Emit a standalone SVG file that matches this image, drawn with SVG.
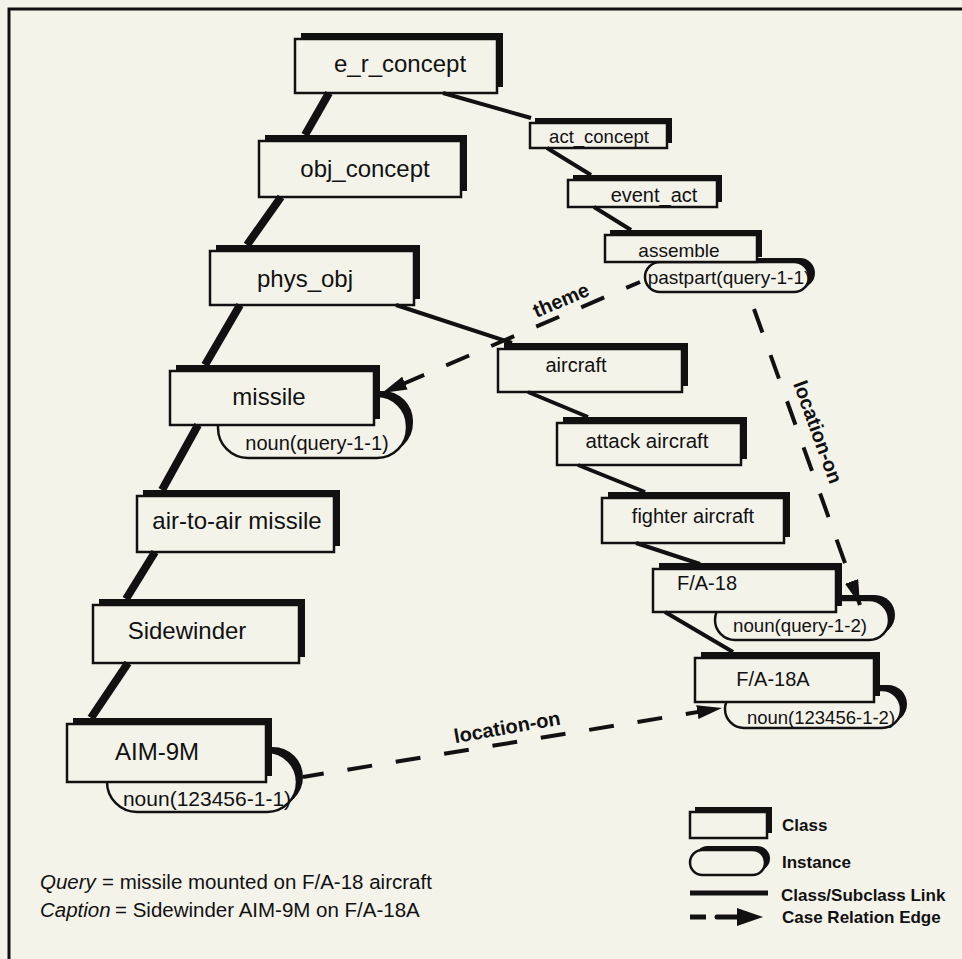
<svg xmlns="http://www.w3.org/2000/svg" width="962" height="959" viewBox="0 0 962 959">
<defs>
<style>
.bg{fill:#f4f3ea}
.sh{fill:#111}
.box{fill:#f4f3ea;stroke:#111;stroke-width:2.5}
.t{font-family:"Liberation Sans",Arial,Helvetica,sans-serif;fill:#111;text-anchor:middle}
.ts{font-family:"Liberation Sans",Arial,Helvetica,sans-serif;fill:#111}
.big{font-size:24px}
.lbl{font-size:20px;font-weight:bold}
.leg{font-size:17px;font-weight:bold}
.thick{stroke:#111;stroke-width:8;fill:none}
.thin{stroke:#111;stroke-width:4;fill:none}
.case{stroke:#111;stroke-width:4;fill:none;stroke-dasharray:25 24}
</style>
<marker id="ah" markerUnits="userSpaceOnUse" markerWidth="26" markerHeight="14" refX="25" refY="7" orient="auto" viewBox="0 0 26 14"><path d="M0,0 L25,7 L0,14 z" fill="#111"/></marker>
</defs>
<rect class="bg" x="0" y="0" width="962" height="959"/>
<path d="M9,959 V9 H962" fill="none" stroke="#111" stroke-width="3"/>

<g id="e_r_concept"><rect class="sh" x="301" y="33" width="202" height="54"/><rect class="box" x="295" y="39" width="202" height="54"/><text class="t big" x="400" y="72">e_r_concept</text></g>
<g id="obj_concept"><rect class="sh" x="265" y="135" width="202" height="56"/><rect class="box" x="259" y="141" width="202" height="56"/><text class="t big" x="365" y="177">obj_concept</text></g>
<g id="phys_obj"><rect class="sh" x="216" y="245" width="204" height="54"/><rect class="box" x="210" y="251" width="204" height="54"/><text class="t big" x="305" y="287">phys_obj</text></g>
<g id="noun_query_1_1"><rect class="sh" x="224" y="391" width="189" height="62" rx="30"/><rect class="box" x="218" y="396" width="189" height="62" rx="30"/><text class="t" font-size="20" x="317" y="450">noun(query-1-1)</text></g>
<g id="missile"><rect class="sh" x="176" y="365" width="204" height="54"/><rect class="box" x="170" y="371" width="204" height="54"/><text class="t big" x="269" y="405">missile</text></g>
<g id="air_to_air_missile"><rect class="sh" x="143" y="490" width="197" height="56"/><rect class="box" x="137" y="496" width="197" height="56"/><text class="t big" x="237" y="529">air-to-air missile</text></g>
<g id="sidewinder"><rect class="sh" x="99" y="599" width="206" height="58"/><rect class="box" x="93" y="605" width="206" height="58"/><text class="t big" x="187" y="639">Sidewinder</text></g>
<g id="noun_123456_1_1"><rect class="sh" x="113" y="747" width="190" height="60" rx="30"/><rect class="box" x="107" y="752" width="190" height="60" rx="30"/><text class="t" font-size="21" x="207" y="806">noun(123456-1-1)</text></g>
<g id="aim_9m"><rect class="sh" x="73" y="718" width="199" height="58"/><rect class="box" x="67" y="724" width="199" height="58"/><text class="t big" x="157" y="760">AIM-9M</text></g>

<g id="act_concept"><rect class="sh" x="535" y="118" width="137" height="25"/><rect class="box" x="530" y="123" width="137" height="25"/><text class="t" font-size="18.5" x="599" y="143">act_concept</text></g>
<g id="event_act"><rect class="sh" x="573" y="175" width="149" height="27"/><rect class="box" x="568" y="180" width="149" height="27"/><text class="t" font-size="20" x="654" y="202">event_act</text></g>
<g id="pastpart_query_1_1"><rect class="sh" x="651" y="258" width="164" height="30" rx="15"/><rect class="box" x="645" y="262" width="164" height="30" rx="15"/><text class="t" font-size="19" x="729" y="284">pastpart(query-1-1)</text></g>
<g id="assemble"><rect class="sh" x="610" y="230" width="152" height="27"/><rect class="box" x="605" y="235" width="152" height="27"/><text class="t" font-size="19" x="679" y="257">assemble</text></g>
<g id="aircraft"><rect class="sh" x="504" y="343" width="184" height="43"/><rect class="box" x="498" y="349" width="184" height="43"/><text class="t" font-size="20" x="576" y="372">aircraft</text></g>
<g id="attack_aircraft"><rect class="sh" x="563" y="417" width="184" height="42"/><rect class="box" x="557" y="423" width="184" height="42"/><text class="t" font-size="20.5" x="647" y="448">attack aircraft</text></g>
<g id="fighter_aircraft"><rect class="sh" x="608" y="492" width="182" height="45"/><rect class="box" x="602" y="498" width="182" height="45"/><text class="t" font-size="20" x="693" y="523">fighter aircraft</text></g>
<g id="noun_query_1_2"><rect class="sh" x="721" y="595" width="174" height="40" rx="20"/><rect class="box" x="715" y="600" width="174" height="40" rx="20"/><text class="t" font-size="18.7" x="800" y="632">noun(query-1-2)</text></g>
<g id="fa18"><rect class="sh" x="659" y="563" width="183" height="43"/><rect class="box" x="653" y="569" width="183" height="43"/><text class="t" font-size="20" x="707" y="590">F/A-18</text></g>
<g id="noun_123456_1_2"><rect class="sh" x="731" y="685" width="176" height="38" rx="19"/><rect class="box" x="725" y="690" width="176" height="38" rx="19"/><text class="t" font-size="18.5" x="821" y="724">noun(123456-1-2)</text></g>
<g id="fa18a"><rect class="sh" x="701" y="652" width="179" height="44"/><rect class="box" x="695" y="658" width="179" height="44"/><text class="t" font-size="20" x="773" y="686">F/A-18A</text></g>

<g id="connectors">
<line class="thick" x1="329" y1="93" x2="305" y2="135"/>
<line class="thick" x1="281" y1="197" x2="247" y2="245"/>
<line class="thick" x1="240" y1="305" x2="205" y2="365"/>
<line class="thick" x1="198" y1="425" x2="162" y2="490"/>
<line class="thick" x1="155" y1="552" x2="126" y2="599"/>
<line class="thick" x1="128" y1="663" x2="91" y2="718"/>
<line class="thin" x1="443" y1="93" x2="531" y2="118"/>
<line class="thin" x1="547" y1="148" x2="591" y2="175"/>
<line class="thin" x1="594" y1="207" x2="631" y2="230"/>
<line class="thin" x1="396" y1="305" x2="512" y2="343"/>
<line class="thin" x1="528" y1="392" x2="588" y2="417"/>
<line class="thin" x1="578" y1="465" x2="645" y2="492"/>
<line class="thin" x1="636" y1="543" x2="700" y2="564"/>
<line class="thin" x1="665" y1="612" x2="733" y2="652"/>
<path class="case" d="M640,282 L382,393" stroke-dashoffset="10" marker-end="url(#ah)"/>
<path class="case" d="M754,309 L860,605" marker-end="url(#ah)"/>
<path class="case" d="M303,777 L722,708" stroke-dashoffset="4" marker-end="url(#ah)"/>
<text class="t lbl" transform="translate(561,300) rotate(-23)" y="7">theme</text>
<text class="t lbl" transform="translate(818,432) rotate(70)" y="7">location-on</text>
<text class="t lbl" transform="translate(507,727) rotate(-10)" y="7">location-on</text>
</g>

<g id="legend">
<rect class="sh" x="695" y="807" width="77" height="26"/><rect class="box" x="690" y="812" width="77" height="26"/>
<rect class="sh" x="695" y="846" width="75" height="25" rx="12.5"/><rect class="box" x="690" y="850" width="75" height="25" rx="12.5"/>
<line x1="690" y1="893" x2="768" y2="893" stroke="#111" stroke-width="5"/>
<line x1="690" y1="917" x2="706" y2="917" stroke="#111" stroke-width="5"/>
<line x1="717" y1="917" x2="740" y2="917" stroke="#111" stroke-width="5" stroke-linecap="round"/>
<path d="M737,908 L763,917 L737,926 z" fill="#111"/>
<text class="ts leg" x="782" y="831">Class</text>
<text class="ts leg" x="782" y="868">Instance</text>
<text class="ts leg" x="781" y="901">Class/Subclass Link</text>
<text class="ts leg" x="782" y="923">Case Relation Edge</text>
</g>

<g id="caption">
<text class="ts" font-size="20.5" font-style="italic" x="40" y="889">Query</text>
<text class="ts" font-size="20.5" x="102" y="889">= missile mounted on F/A-18 aircraft</text>
<text class="ts" font-size="20.5" font-style="italic" x="40" y="917">Caption</text>
<text class="ts" font-size="20.5" x="115" y="917">= Sidewinder AIM-9M on F/A-18A</text>
</g>
</svg>
